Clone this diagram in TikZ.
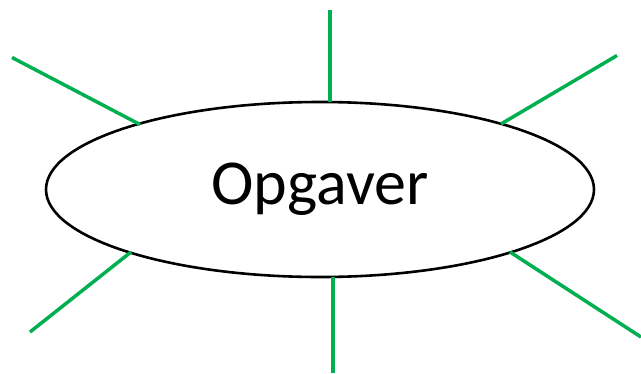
\documentclass[tikz,border=0pt]{standalone}
\usepackage{fontspec}
\setmainfont{Carlito}
\usetikzlibrary{shapes.geometric}
\definecolor{ray}{HTML}{00B050}
\begin{document}
\begin{tikzpicture}[x=1pt,y=-1pt,
  rayline/.style={draw=ray,line width=3.5pt},
  hub/.style={draw=black,line width=2.6pt,ellipse,minimum width=548pt,minimum height=175pt,inner sep=0pt,font=\fontsize{64}{70}\selectfont}]
\useasboundingbox (0,0) rectangle (641,373);
\node[hub] (c) at (320,189.5) {Opgaver};
\coordinate (t1) at (330,10);   \coordinate (t2) at (330,102);
\coordinate (tl1) at (12,57.5); \coordinate (tl2) at (140,124.5);
\coordinate (tr1) at (617,55.5);\coordinate (tr2) at (501,124);
\coordinate (bl1) at (30,332);  \coordinate (bl2) at (131,252);
\coordinate (b1) at (333,373);  \coordinate (b2) at (333,277);
\coordinate (br1) at (641,337); \coordinate (br2) at (510,252);
\draw[rayline] (t1) -- (t2);
\draw[rayline] (tl1) -- (tl2);
\draw[rayline] (tr1) -- (tr2);
\draw[rayline] (bl1) -- (bl2);
\draw[rayline] (b1) -- (b2);
\draw[rayline] (br1) -- (br2);
\end{tikzpicture}
\end{document}
